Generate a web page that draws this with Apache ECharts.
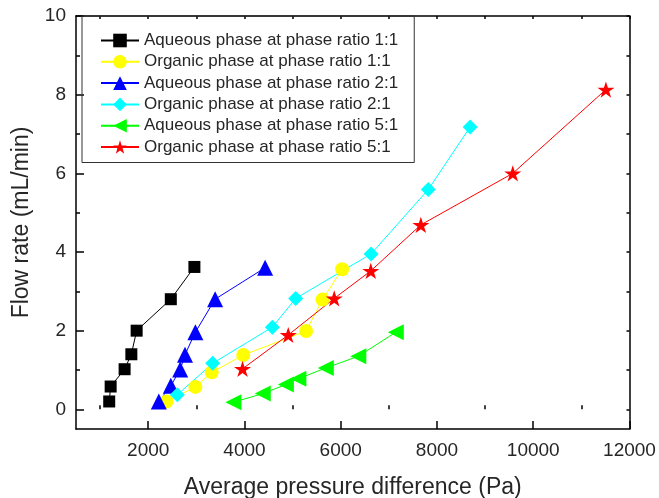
<!DOCTYPE html>
<html>
<head>
<meta charset="utf-8">
<script src="https://cdn.jsdelivr.net/npm/echarts@6/dist/echarts.min.js"></script>
<style>
html,body{margin:0;padding:0;background:#fff;}
#chart{width:659px;height:498px;}
</style>
</head>
<body>
<div id="chart"></div>
<script>
// ---- data (x: Pa, y: mL/min) ----
const seriesNames = [
  'Aqueous phase at phase ratio 1:1',
  'Organic phase at phase ratio 1:1',
  'Aqueous phase at phase ratio 2:1',
  'Organic phase at phase ratio 2:1',
  'Aqueous phase at phase ratio 5:1',
  'Organic phase at phase ratio 5:1'
];
const aq11 = [[1190,0.20],[1220,0.58],[1510,1.02],[1650,1.40],[1760,2.00],[2470,2.80],[2960,3.62]];
const org11 = [[2380,0.20],[2980,0.57],[3320,0.94],[3975,1.38],[5280,1.99],[5620,2.79],[6030,3.56]];
const aq21 = [[2220,0.20],[2470,0.60],[2665,1.01],[2765,1.39],[2980,1.96],[3390,2.80],[4430,3.60]];
const org21 = [[2605,0.37],[3340,1.17],[4580,2.09],[5065,2.82],[6630,3.95],[7820,5.59],[8690,7.18]];
const aq51 = [[3770,0.18],[4380,0.40],[4860,0.63],[5120,0.78],[5690,1.05],[6365,1.35],[7145,1.96]];
const org51 = [[3960,1.03],[4910,1.89],[5865,2.82],[6625,3.52],[7665,4.69],[9575,6.00],[11510,8.13]];

const xMajorTicks = [2000,4000,6000,8000,10000,12000];
const xMinorTicks = [1000,3000,5000,7000,9000,11000];
const yMajorTicks = [0,2,4,6,8,10];
const yMinorTicks = [1,3,5,7,9];

const FONT = '"Liberation Sans", Arial, sans-serif';
const TXT = '#262626';
const star = 'path://M100 0 L122.45 69.1 L195.1 69.1 L136.3 111.8 L158.8 180.9 L100 138.2 L41.2 180.9 L63.7 111.8 L4.9 69.1 L77.55 69.1 Z';

const colors = ['#000000','#ffff00','#0000ff','#00ffff','#00ff00','#ff0000'];
const datasets = [aq11, org11, aq21, org21, aq51, org51];
const symbols = ['rect','circle','triangle','diamond','triangle',star];
const sizes = [12,14,16,15,16,17];
const rotates = [0,0,0,0,90,0];

const chart = echarts.init(document.getElementById('chart'), null, {renderer:'canvas'});

const xBase = {type:'value', min:500, max:12000, splitLine:{show:false}};
const yBase = {type:'value', min:-0.5, max:10, splitLine:{show:false}};
const axisLine = {show:true, onZero:false, lineStyle:{color:'#000', width:1.5}};
const tickStyle = {color:'#000', width:1.5};
const plain = v => String(v);

const option = {
  animation:false,
  backgroundColor:'#fff',
  textStyle:{fontFamily:FONT},
  grid:{left:76, right:29.5, top:16, bottom:69, containLabel:false, outerBoundsMode:'none'},
  legend:{
    orient:'vertical', left:82, top:16,
    padding:[16,16,7,18],
    itemGap:4.3, itemWidth:38, itemHeight:17,
    borderColor:'#333', borderWidth:1,
    textStyle:{fontSize:17, color:TXT, fontFamily:FONT, lineHeight:17},
    data: seriesNames
  },
  xAxis:[
    Object.assign({}, xBase, {
      position:'bottom',
      name:'Average pressure difference (Pa)', nameLocation:'middle', nameGap:47,
      nameTextStyle:{fontSize:23, color:TXT, fontFamily:FONT},
      axisLine:axisLine,
      axisTick:{show:true, inside:true, length:8, customValues:xMajorTicks, lineStyle:tickStyle},
      axisLabel:{show:true, customValues:xMajorTicks, formatter:plain, fontSize:19, color:TXT, margin:12, fontFamily:FONT}
    }),
    Object.assign({}, xBase, {
      position:'bottom',
      axisLine:{show:false},
      axisTick:{show:true, inside:true, length:4, customValues:xMinorTicks, lineStyle:tickStyle},
      axisLabel:{show:false, customValues:xMinorTicks}
    }),
    Object.assign({}, xBase, {
      position:'top',
      axisLine:axisLine,
      axisTick:{show:true, inside:true, length:3, customValues:xMinorTicks.concat(xMajorTicks), lineStyle:tickStyle},
      axisLabel:{show:false, customValues:xMinorTicks.concat(xMajorTicks)}
    })
  ],
  yAxis:[
    Object.assign({}, yBase, {
      position:'left',
      name:'Flow rate (mL/min)', nameLocation:'middle', nameGap:43, nameRotate:90,
      nameTextStyle:{fontSize:23, color:TXT, fontFamily:FONT},
      axisLine:axisLine,
      axisTick:{show:true, inside:true, length:8, customValues:yMajorTicks, lineStyle:tickStyle},
      axisLabel:{show:true, customValues:yMajorTicks, formatter:plain, fontSize:19, color:TXT, margin:10, fontFamily:FONT}
    }),
    Object.assign({}, yBase, {
      position:'left',
      axisLine:{show:false},
      axisTick:{show:true, inside:true, length:4, customValues:yMinorTicks, lineStyle:tickStyle},
      axisLabel:{show:false, customValues:yMinorTicks}
    }),
    Object.assign({}, yBase, {
      position:'right',
      axisLine:axisLine,
      axisTick:{show:true, inside:true, length:3, customValues:yMinorTicks.concat(yMajorTicks), lineStyle:tickStyle},
      axisLabel:{show:false, customValues:yMinorTicks.concat(yMajorTicks)}
    })
  ],
  series: datasets.map((d,i)=>({
    name: seriesNames[i],
    type:'line',
    xAxisIndex:0, yAxisIndex:0,
    data:d,
    symbol:symbols[i],
    symbolSize:sizes[i],
    symbolRotate:rotates[i],
    symbolKeepAspect:true,
    showAllSymbol:true,
    lineStyle:{color:colors[i], width:1},
    itemStyle:{color:colors[i], borderWidth:0},
    emphasis:{disabled:true}
  }))
};
chart.setOption(option);
</script>
</body>
</html>
